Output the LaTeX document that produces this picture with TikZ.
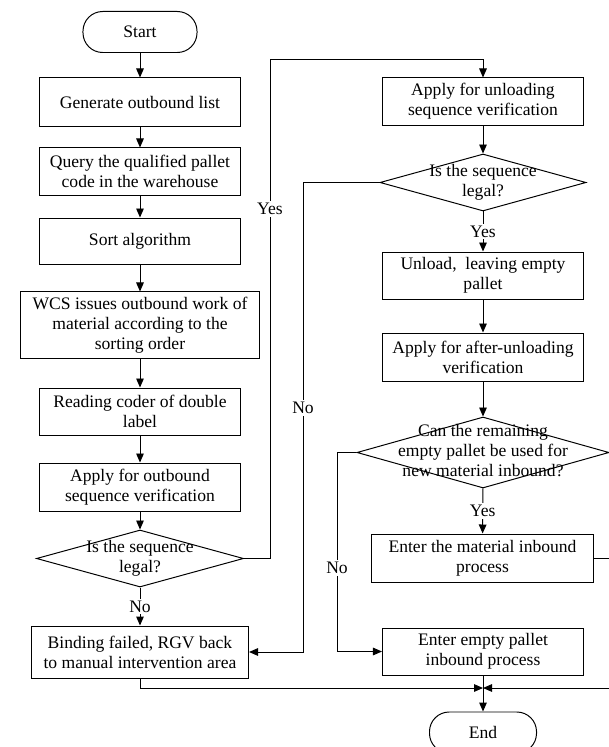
\documentclass[tikz,border=0pt]{standalone}
\usepackage{fontspec}
\setmainfont{Liberation Serif}
\usepackage{tikz}
\usetikzlibrary{shapes.geometric,arrows.meta}
\newcommand{\dtext}[1]{\makebox[0pt]{\smash{\raisebox{-0.25em}{\begin{tabular}{@{}c@{}}#1\end{tabular}}}}}

\begin{document}
\begin{tikzpicture}[x=0.025cm,y=-0.025cm,line width=0.7pt,
  >={Triangle[length=6.4pt,width=5.4pt]},
  every node/.style={font=\fontsize{12.5}{14.3}\selectfont},
  box/.style={draw,rectangle,align=center,inner sep=2pt},
  term/.style={draw,rounded corners=14pt,minimum width=2.85cm,minimum height=1.025cm},
  decision/.style={draw,diamond,inner sep=0pt},
  lbl/.style={fill=white,inner sep=1.5pt}]
          \useasboundingbox (0,0) rectangle (609,747);
          \clip (0,0) rectangle (609,747);

          \node[term] (Start) at (140,32) {Start};
          \node[box,minimum width=5cm,minimum height=1.2cm] (Gen) at (140,102) {Generate outbound list};
          \node[box,minimum width=5cm,minimum height=1.175cm] (Query) at (140,171.5) {Query the qualified pallet\\code in the warehouse};
          \node[box,minimum width=5cm,minimum height=1.15cm] (Sort) at (140,241) {Sort algorithm};
          \node[box,minimum width=5.95cm,minimum height=1.65cm] (WCS) at (140,325) {WCS issues outbound work of\\material according to the\\sorting order};
          \node[box,minimum width=5cm,minimum height=1.175cm] (Read) at (140,411.5) {Reading coder of double\\label};
          \node[box,minimum width=5cm,minimum height=1.2cm] (ApO) at (140,487) {Apply for outbound\\sequence verification};
          \node[decision,minimum width=5.175cm,minimum height=1.425cm] (D1) at (140,558.5) {\dtext{Is the sequence\\legal?}};
          \node[box,minimum width=5.425cm,minimum height=1.3cm] (Fail) at (140,652) {Binding failed, RGV back\\to manual intervention area};

          \node[box,minimum width=5.025cm,minimum height=1.175cm] (ApU) at (483,101.5) {Apply for unloading\\sequence verification};
          \node[decision,minimum width=5.15cm,minimum height=1.425cm] (D2) at (483,182.5) {\dtext{Is the sequence\\legal?}};
          \node[box,minimum width=5.025cm,minimum height=1.175cm] (Unl) at (483,275.5) {Unload,~ leaving empty\\pallet};
          \node[box,minimum width=5.025cm,minimum height=1.2cm] (ApA) at (483,357) {Apply for after-unloading\\verification};
          \node[decision,minimum width=6.3cm,minimum height=1.775cm] (D3) at (483,452.5) {\dtext{Can the remaining\\empty pallet be used for\\new material inbound?}};
          \node[box,minimum width=5.525cm,minimum height=1.2cm] (Mat) at (482.5,558) {Enter the material inbound\\process};
          \node[box,minimum width=5.025cm,minimum height=1.175cm] (Emp) at (483,651.5) {Enter empty pallet\\inbound process};
          \node[term,minimum width=2.675cm] (End) at (483,732.5) {End};

          \coordinate (J) at (483,688);
          \coordinate (Y1) at (270,59);
          \coordinate (N1) at (303,182.5);
          \coordinate (N2) at (337,452.5);
          \coordinate (R1) at (625,558);

          \draw[->] (Start) -- (Gen);
          \draw[->] (Gen) -- (Query);
          \draw[->] (Query) -- (Sort);
          \draw[->] (Sort) -- (WCS);
          \draw[->] (WCS) -- (Read);
          \draw[->] (Read) -- (ApO);
          \draw[->] (ApO) -- (D1);
          \draw[->] (D1) -- node[lbl]{No} (Fail);
          \draw[->] (D1.east) -| node[lbl,pos=0.85]{Yes} (Y1) -| (ApU);

          \draw[->] (ApU) -- (D2);
          \draw[->] (D2) -- node[lbl]{Yes} (Unl);
          \draw[->] (D2.west) -- (N1) |- node[lbl,pos=0.24]{No} (Fail);
          \draw[->] (Unl) -- (ApA);
          \draw[->] (ApA) -- (D3);
          \draw[->] (D3) -- node[lbl]{Yes} (Mat);
          \draw[->] (D3.west) -- (N2) |- node[lbl,pos=0.29]{No} (Emp);

          \draw[->] (Mat.east) -- (R1) |- (J);
          \draw[->] (Fail) |- (J);
          \draw[->] (Emp) -- (End);
        \end{tikzpicture}
\end{document}
